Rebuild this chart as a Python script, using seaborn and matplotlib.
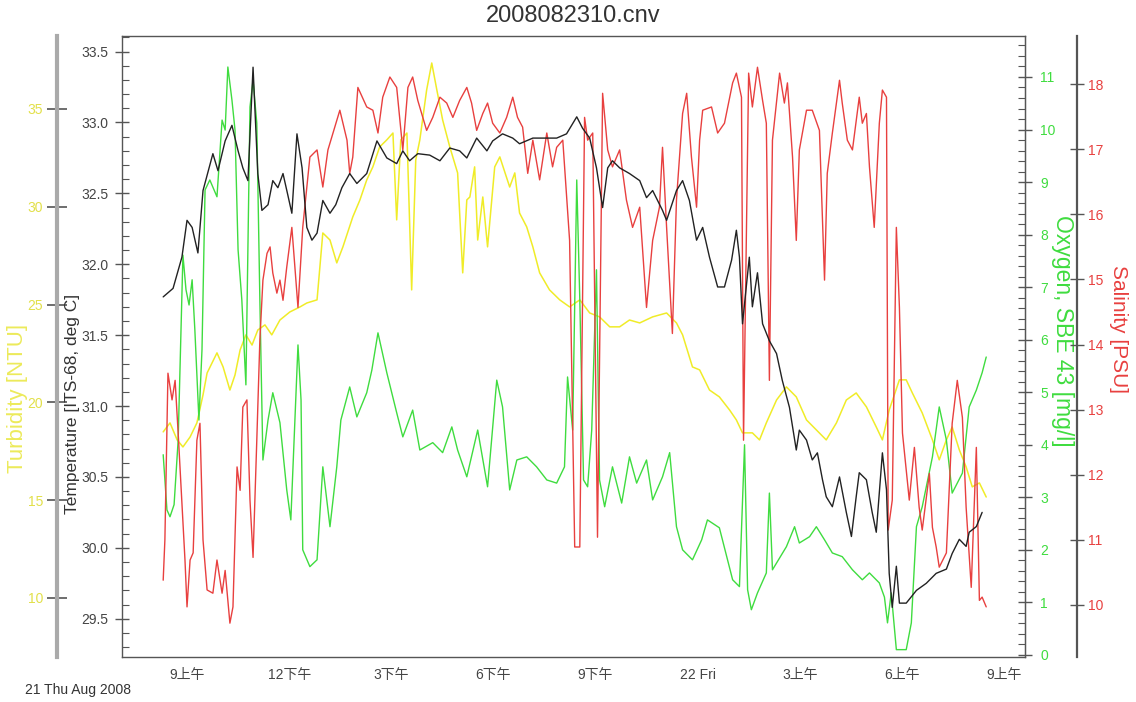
import matplotlib
matplotlib.use("Agg")
import matplotlib.pyplot as plt
import seaborn as sns
from matplotlib.ticker import MultipleLocator, FixedLocator

# time axis: hours since midnight of 21 Aug 2008
temp_hours = [8.30, 8.59, 8.85, 9.00, 9.15, 9.32, 9.47, 9.76, 9.91, 10.12,
              10.32, 10.50, 10.64, 10.79, 10.94, 11.08, 11.20, 11.38, 11.52, 11.67,
              11.82, 11.96, 12.08, 12.23, 12.38, 12.52, 12.67, 12.82, 12.99, 13.20,
              13.37, 13.55, 13.78, 13.99, 14.28, 14.58, 14.87, 15.16, 15.34, 15.54,
              15.78, 16.13, 16.43, 16.72, 17.01, 17.22, 17.51, 17.81, 17.98, 18.27,
              18.57, 18.77, 19.16, 19.51, 19.86, 20.15, 20.45, 20.62, 20.83, 21.03,
              21.21, 21.36, 21.50, 21.71, 22.00, 22.30, 22.50, 22.68, 22.97, 23.09,
              23.38, 23.56, 23.76, 23.97, 24.15, 24.35, 24.59, 24.79, 25.00, 25.14,
              25.23, 25.32, 25.52, 25.61, 25.76, 25.91, 26.11, 26.32, 26.49, 26.70,
              26.90, 26.99, 27.20, 27.37, 27.52, 27.67, 27.78, 27.96, 28.17, 28.37,
              28.52, 28.66, 28.75, 28.96, 29.13, 29.25, 29.43, 29.55, 29.63, 29.72,
              29.84, 29.93, 30.13, 30.43, 30.72, 31.01, 31.31, 31.48, 31.69, 31.89,
              31.98, 32.19, 32.36]
temperature = [31.77, 31.83, 32.05, 32.31, 32.26, 32.08, 32.52, 32.78, 32.66, 32.87,
               32.98, 32.80, 32.68, 32.59, 33.39, 32.64, 32.38, 32.42, 32.59, 32.54,
               32.64, 32.49, 32.36, 32.92, 32.68, 32.26, 32.17, 32.22, 32.45, 32.36,
               32.42, 32.54, 32.64, 32.57, 32.64, 32.87, 32.75, 32.71, 32.80, 32.73,
               32.78, 32.77, 32.73, 32.82, 32.80, 32.75, 32.89, 32.80, 32.87, 32.92,
               32.89, 32.85, 32.89, 32.89, 32.89, 32.92, 33.04, 32.96, 32.89, 32.68,
               32.40, 32.68, 32.73, 32.68, 32.64, 32.59, 32.47, 32.52, 32.38, 32.31,
               32.52, 32.59, 32.45, 32.17, 32.26, 32.05, 31.84, 31.84, 32.03, 32.24,
               32.05, 31.58, 32.05, 31.70, 31.94, 31.58, 31.46, 31.37, 31.18, 30.99,
               30.69, 30.83, 30.76, 30.62, 30.67, 30.48, 30.36, 30.29, 30.50, 30.25,
               30.08, 30.36, 30.53, 30.48, 30.25, 30.11, 30.67, 30.41, 29.82, 29.58,
               29.87, 29.61, 29.61, 29.70, 29.75, 29.82, 29.85, 29.96, 30.06, 30.01,
               30.11, 30.15, 30.25]

oxy_hours = [8.30, 8.41, 8.50, 8.62, 8.74, 8.88, 8.97, 9.06, 9.15, 9.23,
             9.35, 9.44, 9.53, 9.67, 9.88, 10.03, 10.12, 10.20, 10.32, 10.41,
             10.50, 10.61, 10.73, 10.85, 10.94, 11.05, 11.14, 11.23, 11.38, 11.52,
             11.73, 11.93, 12.05, 12.17, 12.26, 12.35, 12.40, 12.61, 12.82, 12.99,
             13.20, 13.40, 13.52, 13.78, 13.99, 14.28, 14.43, 14.61, 14.87, 15.16,
             15.34, 15.63, 15.84, 16.22, 16.51, 16.78, 16.95, 17.22, 17.54, 17.83,
             18.10, 18.27, 18.48, 18.69, 18.98, 19.27, 19.57, 19.86, 20.09, 20.18,
             20.33, 20.45, 20.54, 20.65, 20.77, 20.89, 21.03, 21.12, 21.27, 21.50,
             21.77, 22.00, 22.21, 22.50, 22.68, 22.97, 23.18, 23.38, 23.56, 23.85,
             24.12, 24.29, 24.64, 25.03, 25.23, 25.38, 25.47, 25.58, 25.76, 26.02,
             26.11, 26.20, 26.61, 26.85, 26.99, 27.29, 27.49, 27.73, 27.96, 28.25,
             28.55, 28.84, 29.05, 29.34, 29.49, 29.58, 29.69, 29.84, 30.13, 30.28,
             30.43, 30.60, 30.90, 31.10, 31.31, 31.48, 31.78, 31.98, 32.19, 32.36,
             32.48]
oxygen = [3.81, 2.76, 2.63, 2.86, 4.09, 7.61, 6.95, 6.66, 7.14, 6.19,
          4.47, 5.81, 8.85, 9.04, 8.72, 10.18, 9.99, 11.19, 10.56, 9.99,
          7.71, 6.76, 5.14, 10.43, 10.94, 10.12, 6.76, 3.71, 4.47, 4.99,
          4.42, 3.14, 2.57, 4.47, 5.90, 4.85, 2.00, 1.68, 1.81, 3.58,
          2.44, 3.58, 4.47, 5.10, 4.53, 4.99, 5.42, 6.13, 5.37, 4.61,
          4.15, 4.66, 3.90, 4.04, 3.85, 4.34, 3.90, 3.39, 4.28, 3.20,
          5.23, 4.72, 3.14, 3.71, 3.77, 3.58, 3.33, 3.27, 3.58, 5.29,
          4.28, 9.04, 6.76, 3.33, 3.20, 4.28, 7.33, 3.33, 2.82, 3.58,
          2.89, 3.77, 3.27, 3.71, 2.95, 3.39, 3.85, 2.44, 2.00, 1.81,
          2.19, 2.57, 2.42, 1.43, 1.30, 4.00, 1.24, 0.86, 1.18, 1.56,
          3.08, 1.62, 2.06, 2.44, 2.13, 2.25, 2.44, 2.19, 1.94, 1.87,
          1.62, 1.43, 1.56, 1.37, 1.10, 0.61, 1.18, 0.10, 0.10, 0.61,
          2.44, 2.82, 3.77, 4.72, 4.09, 3.08, 3.46, 4.72, 5.04, 5.37,
          5.67]

sal_hours = [8.30, 8.35, 8.44, 8.56, 8.65, 8.74, 8.85, 8.94, 9.00, 9.09,
             9.18, 9.29, 9.38, 9.47, 9.59, 9.76, 9.88, 10.03, 10.12, 10.26,
             10.35, 10.47, 10.56, 10.64, 10.76, 10.85, 10.94, 11.05, 11.14, 11.23,
             11.35, 11.44, 11.52, 11.64, 11.73, 11.82, 11.93, 12.08, 12.17, 12.26,
             12.40, 12.61, 12.82, 12.99, 13.14, 13.49, 13.70, 13.78, 13.87, 14.02,
             14.28, 14.46, 14.61, 14.75, 14.96, 15.16, 15.34, 15.49, 15.63, 15.78,
             16.04, 16.22, 16.43, 16.63, 16.81, 17.01, 17.22, 17.36, 17.51, 17.69,
             17.83, 17.98, 18.19, 18.39, 18.57, 18.71, 18.86, 19.01, 19.16, 19.36,
             19.57, 19.74, 19.86, 20.04, 20.24, 20.39, 20.54, 20.68, 20.77, 20.92,
             21.06, 21.21, 21.36, 21.50, 21.71, 21.91, 22.09, 22.30, 22.50, 22.68,
             22.88, 22.97, 23.09, 23.26, 23.38, 23.56, 23.68, 23.82, 23.97, 24.06,
             24.15, 24.41, 24.59, 24.79, 25.03, 25.14, 25.29, 25.35, 25.50, 25.61,
             25.76, 25.91, 26.02, 26.11, 26.20, 26.41, 26.55, 26.64, 26.79, 26.90,
             26.99, 27.20, 27.37, 27.58, 27.73, 27.81, 27.96, 28.17, 28.25, 28.40,
             28.55, 28.75, 28.84, 28.96, 29.05, 29.19, 29.34, 29.43, 29.55, 29.60,
             29.72, 29.84, 29.93, 30.02, 30.22, 30.37, 30.51, 30.60, 30.81, 30.90,
             31.01, 31.10, 31.31, 31.48, 31.63, 31.78, 31.89, 32.04, 32.19, 32.28,
             32.36, 32.48]
salinity = [10.38, 11.00, 13.56, 13.15, 13.45, 12.64, 11.56, 10.69, 9.97, 10.69,
            10.80, 12.53, 12.79, 11.00, 10.23, 10.18, 10.69, 10.18, 10.53, 9.72,
            9.97, 12.12, 11.76, 13.04, 13.15, 11.61, 10.73, 12.53, 14.07, 14.99,
            15.40, 15.50, 15.10, 14.79, 14.99, 14.68, 15.19, 15.80, 15.19, 14.57,
            15.80, 16.88, 16.99, 16.42, 16.99, 17.60, 17.14, 16.63, 16.88, 17.95,
            17.65, 17.60, 17.25, 17.80, 18.11, 17.95, 16.99, 17.95, 18.11, 17.75,
            17.29, 17.49, 17.80, 17.71, 17.49, 17.75, 17.95, 17.71, 17.29, 17.55,
            17.71, 17.40, 17.25, 17.49, 17.80, 17.49, 17.34, 16.63, 17.14, 16.53,
            17.25, 16.73, 17.03, 17.14, 15.60, 10.89, 10.89, 17.49, 17.14, 17.25,
            11.04, 17.86, 16.99, 16.73, 16.99, 16.22, 15.80, 16.11, 14.57, 15.60,
            16.11, 17.03, 15.80, 14.17, 16.22, 17.55, 17.86, 16.88, 16.11, 17.14,
            17.60, 17.65, 17.25, 17.40, 18.02, 18.17, 17.80, 12.53, 18.17, 17.65,
            18.26, 17.75, 17.40, 13.45, 17.14, 18.17, 17.71, 18.02, 16.88, 15.60,
            16.99, 17.60, 17.60, 17.29, 14.99, 16.63, 17.25, 18.06, 17.71, 17.14,
            16.99, 17.80, 17.40, 17.55, 16.73, 15.80, 17.40, 17.91, 17.80, 11.15,
            11.61, 15.80, 14.57, 12.64, 11.61, 12.42, 11.50, 11.15, 12.02, 11.19,
            10.89, 10.58, 10.80, 12.79, 13.45, 12.88, 11.50, 10.27, 12.42, 10.07,
            10.12, 9.97]

turb_hours = [8.30, 8.50, 8.71, 8.88, 9.09, 9.29, 9.47, 9.59, 9.88, 10.06,
              10.26, 10.41, 10.56, 10.73, 10.91, 11.08, 11.29, 11.49, 11.73, 12.02,
              12.32, 12.52, 12.82, 12.99, 13.20, 13.40, 13.58, 13.87, 14.08, 14.28,
              14.46, 14.66, 14.87, 15.05, 15.16, 15.28, 15.46, 15.60, 15.72, 15.84,
              16.04, 16.19, 16.34, 16.51, 16.72, 16.95, 17.10, 17.22, 17.31, 17.45,
              17.54, 17.69, 17.83, 18.04, 18.19, 18.48, 18.63, 18.77, 18.98, 19.16,
              19.36, 19.65, 19.95, 20.24, 20.54, 20.83, 21.12, 21.42, 21.71, 22.00,
              22.30, 22.68, 23.09, 23.38, 23.56, 23.85, 24.06, 24.35, 24.64, 24.94,
              25.14, 25.32, 25.61, 25.82, 26.02, 26.32, 26.61, 26.90, 27.20, 27.49,
              27.78, 28.08, 28.37, 28.66, 28.96, 29.25, 29.43, 29.63, 29.93, 30.13,
              30.31, 30.60, 30.90, 31.10, 31.31, 31.48, 31.69, 31.89, 32.07, 32.28,
              32.48]
turbidity = [18.49, 18.95, 18.08, 17.72, 18.23, 18.95, 20.38, 21.50, 22.53, 21.81,
             20.63, 21.40, 22.68, 23.45, 22.93, 23.70, 23.96, 23.45, 24.21, 24.62,
             24.88, 25.08, 25.24, 28.66, 28.30, 27.13, 27.95, 29.48, 30.35, 31.37,
             32.04, 33.06, 33.42, 33.77, 29.33, 33.42, 33.77, 25.75, 32.39, 33.42,
             35.97, 37.35, 35.97, 34.44, 33.06, 31.73, 26.62, 30.35, 30.50, 32.04,
             28.30, 30.50, 27.95, 32.04, 32.55, 31.01, 31.73, 29.68, 28.97, 27.95,
             26.62, 25.75, 25.24, 24.88, 25.24, 24.57, 24.37, 23.86, 23.86, 24.21,
             24.06, 24.37, 24.57, 24.06, 23.45, 21.81, 21.66, 20.63, 20.28, 19.61,
             19.10, 18.44, 18.44, 18.08, 18.95, 20.12, 20.79, 20.28, 19.10, 18.59,
             18.08, 18.95, 20.12, 20.48, 19.77, 18.74, 18.08, 19.61, 21.15, 21.15,
             20.48, 19.46, 18.08, 17.06, 18.08, 18.74, 17.57, 16.70, 15.68, 15.88,
             15.16]

tick_hours = [9, 12, 15, 18, 21, 24, 27, 30, 33]
tick_labels = ["9上午", "12下午", "3下午", "6下午", "9下午", "22 Fri", "3上午", "6上午", "9上午"]

sns.set_style("white")
plt.rcParams['font.family'] = ['Liberation Sans', 'Noto Sans CJK SC', 'DejaVu Sans']

fig = plt.figure(figsize=(11.36, 7.02), dpi=100)
ax = fig.add_axes([0.1074, 0.0641, 0.7949, 0.8846])
ax_y = ax.twinx()
ax_g = ax.twinx()
ax_r = ax.twinx()
ax.set_zorder(5)
ax.patch.set_visible(False)

yellow = '#f0ec28'
green = '#3fdc3f'
red = '#e8403f'
grey = '#444444'

sns.lineplot(x=turb_hours, y=turbidity, ax=ax_y, color=yellow, linewidth=1.1, estimator=None, sort=False)
sns.lineplot(x=oxy_hours, y=oxygen, ax=ax_g, color=green, linewidth=1.0, estimator=None, sort=False)
sns.lineplot(x=sal_hours, y=salinity, ax=ax_r, color=red, linewidth=1.0, estimator=None, sort=False)
sns.lineplot(x=temp_hours, y=temperature, ax=ax, color='#222222', linewidth=1.0, estimator=None, sort=False)

ax.set_xlim(7.09, 33.62)
ax.set_ylim(29.23, 33.61)
ax_g.set_ylim(-0.04, 11.78)
ax_r.set_ylim(9.2, 18.74)
ax_y.set_ylim(6.98, 38.73)

# main frame + temperature axis
for s in ax.spines.values():
    s.set_color('#555555')
    s.set_linewidth(1.0)
ax.xaxis.set_major_locator(FixedLocator(tick_hours))
ax.set_xticklabels(tick_labels)
ax.xaxis.set_minor_locator(MultipleLocator(1))
ax.yaxis.set_major_locator(MultipleLocator(0.5))
ax.yaxis.set_minor_locator(MultipleLocator(0.1))
ax.tick_params(axis='both', which='major', direction='inout', length=10, width=1,
               color='#555555', labelcolor=grey, labelsize=10)
ax.tick_params(axis='both', which='minor', direction='in', length=5, width=0.8, color='#555555')
ax.tick_params(axis='x', which='major', pad=3)
ax.tick_params(axis='y', which='major', pad=5)
ax.set_xlabel("")
ax.set_ylabel("Temperature [ITS-68, deg C]", fontsize=12.5, color='#333333')
ax.yaxis.set_label_coords(-0.047, 0.407)

# oxygen axis on the frame's right edge
for k, s in ax_g.spines.items():
    s.set_visible(k == 'right')
ax_g.spines['right'].set_color('#555555')
ax_g.yaxis.set_major_locator(MultipleLocator(1))
ax_g.yaxis.set_minor_locator(MultipleLocator(0.2))
ax_g.tick_params(axis='y', which='major', direction='inout', length=10, width=1,
                 color='#555555', labelcolor=green, labelsize=10, pad=6)
ax_g.tick_params(axis='y', which='minor', direction='in', length=5, width=0.8, color='#555555')
ax_g.set_ylabel("Oxygen, SBE 43 [mg/l]", fontsize=16.5, color=green, rotation=270, va='center')
ax_g.yaxis.set_label_coords(1.042, 0.525)

# salinity axis, offset to the right
for k, s in ax_r.spines.items():
    s.set_visible(k == 'right')
ax_r.spines['right'].set_position(('outward', 37.4))
ax_r.spines['right'].set_color('#555555')
ax_r.spines['right'].set_linewidth(1.6)
ax_r.yaxis.set_major_locator(MultipleLocator(1))
ax_r.tick_params(axis='y', which='major', direction='inout', length=10, width=1,
                 color='#555555', labelcolor=red, labelsize=10, pad=3)
ax_r.set_ylabel("Salinity [PSU]", fontsize=15, color=red, rotation=270, va='center')
ax_r.yaxis.set_label_coords(1.103, 0.528)

# turbidity axis, offset to the left
for k, s in ax_y.spines.items():
    s.set_visible(k == 'left')
ax_y.yaxis.set_ticks_position('left')
ax_y.yaxis.set_label_position('left')
ax_y.spines['left'].set_position(('outward', 46.8))
ax_y.spines['left'].set_color('#aaaaaa')
ax_y.spines['left'].set_linewidth(3)
ax_y.yaxis.set_major_locator(MultipleLocator(5))
ax_y.tick_params(axis='y', which='major', direction='inout', length=14, width=1.2,
                 color='#555555', labelcolor='#e2e04a', labelsize=10, pad=3)
ax_y.set_ylabel("Turbidity [NTU]", fontsize=16, color='#ecea5a')
ax_y.yaxis.set_label_coords(-0.104, 0.417)

fig.text(0.505, 0.977, "2008082310.cnv", ha='center', va='center', fontsize=17, color='#333333')
fig.text(0.022, 0.017, "21 Thu Aug 2008", ha='left', va='center', fontsize=10, color='#333333')

fig.savefig("out.png", dpi=100, facecolor='white')
